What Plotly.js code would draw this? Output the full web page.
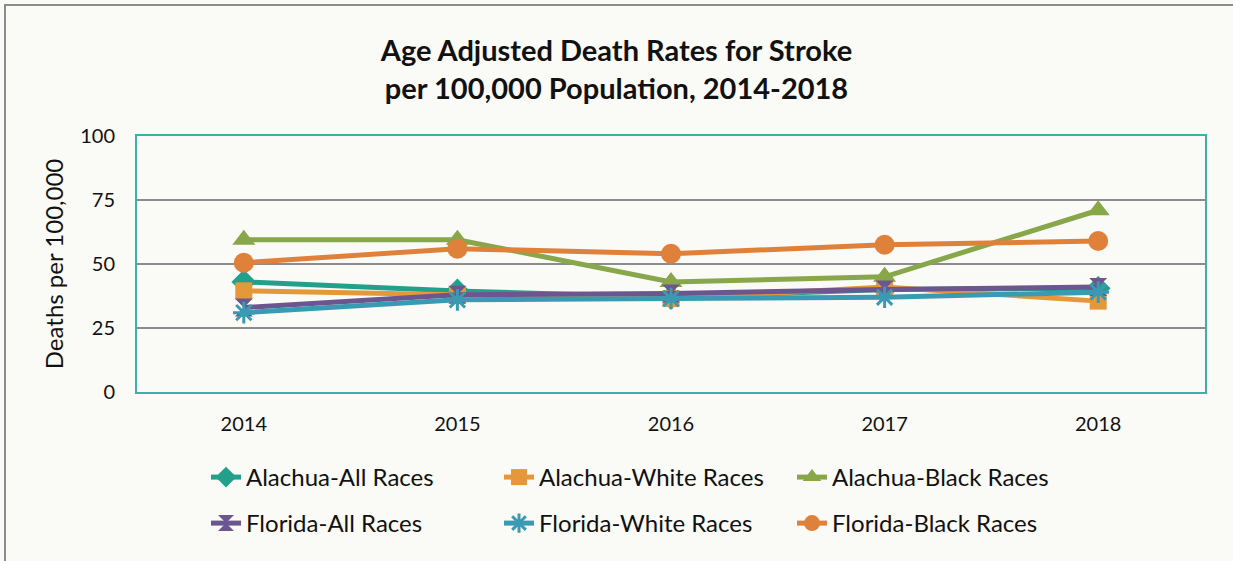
<!DOCTYPE html>
<html>
<head>
<meta charset="utf-8">
<script src="https://cdn.plot.ly/plotly-3.0.1.min.js"></script>
<style>
  html, body { margin: 0; padding: 0; background: #ffffff; }
  #wrap { position: relative; width: 1233px; height: 561px; }
  #chart { position: absolute; left: 0; top: 0; width: 1233px; height: 561px; }
  #frame { position: absolute; left: 4px; top: 4px; width: 1240px; height: 570px;
           border-left: 2px solid #8c8c8c; border-top: 2px solid #8c8c8c; pointer-events: none; }
</style>
</head>
<body>
<div id="wrap">
  <div id="chart"></div>
  <div id="frame"></div>
</div>
<script>
const years = ["2014", "2015", "2016", "2017", "2018"];
const alachuaAll   = [43.0, 39.5, 37.0, 40.0, 40.5];
const alachuaWhite = [39.5, 38.0, 36.5, 41.0, 35.5];
const alachuaBlack = [59.5, 59.5, 43.0, 45.0, 71.0];
const floridaAll   = [33.0, 38.0, 38.5, 40.0, 41.0];
const floridaWhite = [31.0, 36.0, 36.5, 37.0, 39.0];
const floridaBlack = [50.5, 56.0, 54.0, 57.5, 59.0];

const names = ["Alachua-All Races", "Alachua-White Races", "Alachua-Black Races",
               "Florida-All Races", "Florida-White Races", "Florida-Black Races"];

const FONT = "Lato, 'Open Sans', sans-serif";

function tr(name, y, color, symbol, size, legend, extraMarker) {
  return {
    type: "scatter", mode: "lines+markers", x: years, y: y, name: name,
    legend: legend,
    line: { color: color, width: 5 },
    marker: Object.assign({ color: color, symbol: symbol, size: size }, extraMarker || {})
  };
}

const data = [
  tr(names[0], alachuaAll,   "#22a08c", "diamond",     19, "legend"),
  tr(names[1], alachuaWhite, "#e5983a", "square",      17, "legend"),
  tr(names[2], alachuaBlack, "#88a64a", "triangle-up", 20, "legend"),
  tr(names[3], floridaAll,   "#6b568f", "hourglass",   18, "legend2"),
  tr(names[4], floridaWhite, "#3b9ab3", "asterisk-open", 18, "legend2", { line: { color: "#3b9ab3", width: 3 } }),
  tr(names[5], floridaBlack, "#df813a", "circle",      20, "legend2")
];

const legendCommon = {
  orientation: "h", xref: "container", yref: "container",
  xanchor: "left", yanchor: "top", x: 206 / 1233,
  entrywidth: 248, entrywidthmode: "pixels",
  bgcolor: "rgba(0,0,0,0)", font: { family: FONT, size: 24, color: "#111111" },
  traceorder: "normal", itemsizing: "trace"
};

const layout = {
  width: 1233, height: 561,
  paper_bgcolor: "#fafaf6", plot_bgcolor: "#fafaf6",
  margin: { l: 137, r: 28, t: 136, b: 169 },
  font: { family: FONT, color: "#111111" },
  title: {
    text: "<b>Age Adjusted Death Rates for Stroke<br>per 100,000 Population, 2014-2018</b>",
    font: { family: FONT, size: 29, color: "#111111" },
    x: 0.5, xref: "container", xanchor: "center",
    y: 1 - 61 / 561, yref: "container", yanchor: "top"
  },
  xaxis: {
    type: "category", range: [-0.5, 4.5], showgrid: false, zeroline: false,
    showline: true, linecolor: "#3fb0a5", linewidth: 2, mirror: true,
    ticks: "", ticklabelstandoff: 13,
    tickfont: { family: FONT, size: 20, color: "#111111" }
  },
  yaxis: {
    range: [0, 100], tickvals: [0, 25, 50, 75, 100], showgrid: true,
    gridcolor: "#8c8c8c", gridwidth: 2, zeroline: false,
    showline: true, linecolor: "#3fb0a5", linewidth: 2, mirror: true,
    ticks: "", ticklabelstandoff: 16,
    tickfont: { family: FONT, size: 20, color: "#111111" },
    title: { text: "Deaths per 100,000", font: { family: FONT, size: 24, color: "#111111" }, standoff: 10 }
  },
  legend: Object.assign({}, legendCommon, { y: 1 - 455 / 561 }),
  legend2: Object.assign({}, legendCommon, { y: 1 - 501 / 561 }),
  showlegend: true
};

Plotly.newPlot("chart", data, layout, { displayModeBar: false, staticPlot: true });
</script>
</body>
</html>
